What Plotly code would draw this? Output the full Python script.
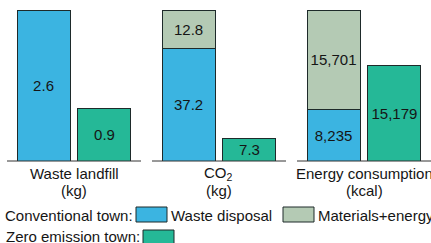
import plotly.graph_objects as go

# ---- data ----
panel_titles = ["Waste landfill", "CO<sub>2</sub>", "Energy consumption"]
panel_units = ["(kg)", "(kg)", "(kcal)"]
conv_waste = [2.6, 37.2, 8235]
conv_materials = [None, 12.8, 15701]
zero_emission = [0.9, 7.3, 15179]
legend_groups = ["Conventional town:", "Zero emission town:"]
legend_series = ["Waste disposal", "Materials+energy"]

W, H = 431, 243
BLUE = "#3bb4e1"
GREY = "#b4cab4"
GREEN = "#25b897"
EDGE = "#1e2a2a"
FONT = "Liberation Sans, Arial, Helvetica, sans-serif"
TXT = "#151515"

def fmt(v):
    if v is None:
        return ""
    if isinstance(v, int):
        return f"{v:,}"
    return f"{v}"

# panel domains in pixels
doms_px = [(7, 141), (152, 286), (297, 431)]
y_base_px, y_top_px = 161, 10
ydom = [1 - y_base_px / H, 1 - y_top_px / H]

fig = go.Figure()
for i in range(3):
    xa = "x" if i == 0 else f"x{i+1}"
    ya = "y" if i == 0 else f"y{i+1}"
    common = dict(xaxis=xa, yaxis=ya, width=0.87, showlegend=False,
                  textposition="inside", insidetextanchor="middle",
                  constraintext="none", cliponaxis=False,
                  textfont=dict(size=15, color=TXT, family=FONT),
                  hoverinfo="skip")
    fig.add_trace(go.Bar(x=[0], y=[conv_waste[i]], text=[fmt(conv_waste[i])],
                         marker=dict(color=BLUE, line=dict(color=EDGE, width=1)), **common))
    if conv_materials[i] is not None:
        fig.add_trace(go.Bar(x=[0], y=[conv_materials[i]], text=[fmt(conv_materials[i])],
                             marker=dict(color=GREY, line=dict(color=EDGE, width=1)), **common))
    fig.add_trace(go.Bar(x=[1], y=[zero_emission[i]], text=[fmt(zero_emission[i])],
                         marker=dict(color=GREEN, line=dict(color=EDGE, width=1)), **common))

layout = dict(
    width=W, height=H, margin=dict(l=0, r=0, t=0, b=0),
    paper_bgcolor="white", plot_bgcolor="white", barmode="stack",
    font=dict(family=FONT, size=15, color=TXT),
)
annotations = []
for i in range(3):
    xk = "xaxis" if i == 0 else f"xaxis{i+1}"
    yk = "yaxis" if i == 0 else f"yaxis{i+1}"
    d0, d1 = doms_px[i]
    total = conv_waste[i] + (conv_materials[i] or 0)
    layout[xk] = dict(domain=[d0 / W, d1 / W], range=[-0.6, 1.6], showgrid=False,
                      zeroline=False, showticklabels=False, ticks="",
                      showline=False,
                      anchor="y" if i == 0 else f"y{i+1}")
    layout[yk] = dict(domain=ydom, range=[0, total], visible=False,
                      anchor="x" if i == 0 else f"x{i+1}")
    cx = ((d0 + d1) / 2) / W
    annotations.append(dict(x=cx, y=1 - 173 / H, xref="paper", yref="paper",
                            text=panel_titles[i], showarrow=False,
                            xanchor="center", yanchor="middle",
                            font=dict(size=15, color=TXT)))
    annotations.append(dict(x=cx, y=1 - 190 / H, xref="paper", yref="paper",
                            text=panel_units[i], showarrow=False,
                            xanchor="center", yanchor="middle",
                            font=dict(size=15, color=TXT)))

shapes = []
# baselines
for d0, d1 in doms_px:
    shapes.append(dict(type="line", xref="paper", yref="paper",
                       x0=d0 / W, x1=d1 / W, y0=1 - y_base_px / H, y1=1 - y_base_px / H,
                       line=dict(color="#333333", width=1)))

# legend
def box(x0, x1, y0, y1, color):
    shapes.append(dict(type="rect", xref="paper", yref="paper",
                       x0=x0 / W, x1=x1 / W, y0=1 - y1 / H, y1=1 - y0 / H,
                       fillcolor=color, line=dict(color=EDGE, width=1)))

def label(x, y, text, anchor="left"):
    annotations.append(dict(x=x / W, y=1 - y / H, xref="paper", yref="paper",
                            text=text, showarrow=False, xanchor=anchor, yanchor="middle",
                            font=dict(size=15, color=TXT)))

label(135, 215, legend_groups[0], "right")
box(136, 167, 207, 222, BLUE)
label(169, 215, legend_series[0])
box(283, 314, 207, 222, GREY)
label(316, 215, legend_series[1])
label(142, 236, legend_groups[1], "right")
box(143, 174, 230, 246, GREEN)

layout["annotations"] = annotations
layout["shapes"] = shapes
fig.update_layout(**layout)
fig.write_html("out.html", config={"displayModeBar": False, "staticPlot": True},
               post_script="document.body.style.margin='0';document.body.style.overflow='hidden';")
